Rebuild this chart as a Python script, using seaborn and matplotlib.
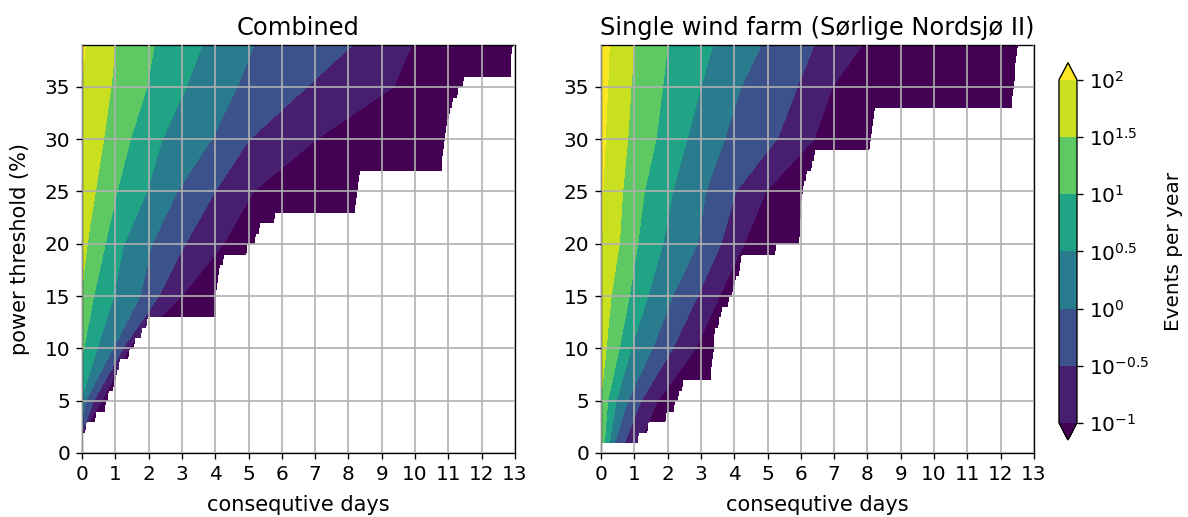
import numpy as np
import matplotlib
matplotlib.use("Agg")
import matplotlib.pyplot as plt
import seaborn as sns

# ---- data -------------------------------------------------------------
days = np.linspace(0, 13, 13 * 24 + 1)          # consecutive days (hourly steps)
thresholds = np.arange(0, 40)                    # power threshold (%)

# contour levels, log10(events per year)
level_exp = [-1.0, -0.5, 0.0, 0.5, 1.0, 1.5, 2.0]
level_labels = [r"$10^{-1}$", r"$10^{-0.5}$", r"$10^{0}$", r"$10^{0.5}$",
                r"$10^{1}$", r"$10^{1.5}$", r"$10^{2}$"]

# Combined: duration (days) at which the event rate falls to each level
comb_knots = [2, 5, 10, 15, 20, 25, 30, 35, 39]
comb_b_2p0 = [-0.60, -0.50, -0.35, -0.20, -0.10, -0.05, -0.03, -0.01, 0.10]
comb_b_1p5 = [-0.45, -0.35, -0.20, -0.03, 0.15, 0.40, 0.65, 0.87, 1.00]
comb_b_1p0 = [-0.30, -0.20, 0.05, 0.35, 0.70, 1.05, 1.45, 1.95, 2.17]
comb_b_0p5 = [-0.15, -0.03, 0.45, 0.95, 1.25, 1.95, 2.40, 3.13, 3.60]
comb_b_0p0 = [-0.03, 0.10, 0.95, 1.75, 2.10, 2.85, 3.90, 4.65, 5.15]
comb_b_m0p5 = [0.02, 0.35, 1.25, 2.30, 3.10, 4.00, 5.00, 6.75, 8.15]
comb_b_m1p0 = [0.06, 0.60, 1.40, 3.00, 4.25, 5.15, 7.05, 9.35, 9.90]
# longest observed duration for each threshold (no events beyond)
comb_extent = [0, 0, 0.12, 0.40, 0.70, 0.75, 0.92, 1.00, 1.10, 1.40,
               1.55, 1.78, 1.95, 4.00, 4.00, 4.03, 4.05, 4.10, 4.22, 4.92,
               5.20, 5.30, 5.75, 8.20, 8.23, 8.27, 8.30, 10.80, 10.82, 10.85,
               10.90, 10.95, 11.00, 11.10, 11.25, 11.45, 12.90, 12.90, 12.90, 12.95]

# Single wind farm (Sørlige Nordsjø II)
single_knots = [1, 5, 10, 15, 20, 25, 30, 35, 39]
single_b_2p0 = [-0.20, -0.10, -0.05, -0.02, 0.02, 0.06, 0.13, 0.20, 0.25]
single_b_1p5 = [-0.05, -0.02, 0.15, 0.30, 0.55, 0.65, 0.80, 0.90, 1.00]
single_b_1p0 = [0.10, 0.20, 0.55, 0.85, 1.10, 1.30, 1.65, 1.85, 2.00]
single_b_0p5 = [0.25, 0.45, 0.90, 1.40, 1.85, 2.15, 2.58, 3.00, 3.35]
single_b_0p0 = [0.40, 0.80, 1.55, 2.15, 2.90, 3.15, 3.70, 4.20, 4.80]
single_b_m0p5 = [0.70, 1.20, 2.15, 2.90, 3.60, 4.05, 5.30, 5.90, 6.40]
single_b_m1p0 = [1.15, 1.70, 2.85, 3.55, 4.30, 4.95, 6.40, 6.95, 7.85]
single_extent = [0, 1.10, 1.40, 1.95, 2.20, 2.30, 2.45, 3.30, 3.30, 3.35,
                 3.40, 3.40, 3.50, 3.60, 3.80, 3.95, 4.00, 4.15, 4.20, 5.23,
                 5.95, 5.97, 5.98, 6.00, 6.00, 6.05, 6.15, 6.30, 6.40, 8.05,
                 8.10, 8.15, 8.20, 12.35, 12.35, 12.40, 12.42, 12.45, 12.47, 12.50]

titles = ["Combined", "Single wind farm (Sørlige Nordsjø II)"]


def rate_field(knots, bounds, extent):
    """log10(events/year) on the (threshold, days) grid; NaN where no events."""
    levels_desc = [2.0, 1.5, 1.0, 0.5, 0.0, -0.5, -1.0]
    field = np.full((len(thresholds), len(days)), np.nan)
    for i, thr in enumerate(thresholds):
        if extent[i] <= 0:
            continue
        b = [float(np.interp(thr, knots, bk)) for bk in bounds]
        xp = [b[0] - (b[1] - b[0])] + b + [b[-1] + (b[-1] - b[-2])]
        fp = [2.5] + levels_desc + [-1.5]
        row = np.interp(days, xp, fp)
        row[days > extent[i]] = np.nan
        field[i] = row
    return np.ma.masked_invalid(field)


fields = [
    rate_field(comb_knots, [comb_b_2p0, comb_b_1p5, comb_b_1p0, comb_b_0p5,
                            comb_b_0p0, comb_b_m0p5, comb_b_m1p0], comb_extent),
    rate_field(single_knots, [single_b_2p0, single_b_1p5, single_b_1p0, single_b_0p5,
                              single_b_0p0, single_b_m0p5, single_b_m1p0], single_extent),
]

# ---- figure -----------------------------------------------------------
cmap = sns.color_palette("viridis", as_cmap=True)
plt.rcParams.update({
    "font.size": 12,
    "axes.titlesize": 14.5,
    "axes.labelsize": 12.5,
    "xtick.labelsize": 12,
    "ytick.labelsize": 12,
})

fig = plt.figure(figsize=(9.9, 517 / 120), dpi=120)
ax_left = fig.add_axes([0.0690, 0.1238, 0.3645, 0.7892])
ax_right = fig.add_axes([0.5059, 0.1238, 0.3645, 0.7892])
cax = fig.add_axes([0.8914, 0.1489, 0.01515, 0.7298])

cs = None
for ax, field, title in zip([ax_left, ax_right], fields, titles):
    cs = ax.contourf(days, thresholds, field, levels=level_exp, cmap=cmap,
                     extend="both")
    ax.set_xlim(0, 13)
    ax.set_ylim(0, 39)
    ax.set_xticks(range(0, 14))
    ax.set_yticks(range(0, 40, 5))
    ax.set_axisbelow(False)
    ax.grid(True, color="#b0b0b0", linewidth=1.0)
    ax.set_title(title)
    ax.set_xlabel("consequtive days", labelpad=7)
ax_left.set_ylabel("power threshold (%)", labelpad=9)

cbar = fig.colorbar(cs, cax=cax, ticks=level_exp)
cbar.ax.set_yticklabels(level_labels)
cbar.set_label("Events per year", fontsize=12, labelpad=9)

fig.savefig("out.png", dpi=120)
